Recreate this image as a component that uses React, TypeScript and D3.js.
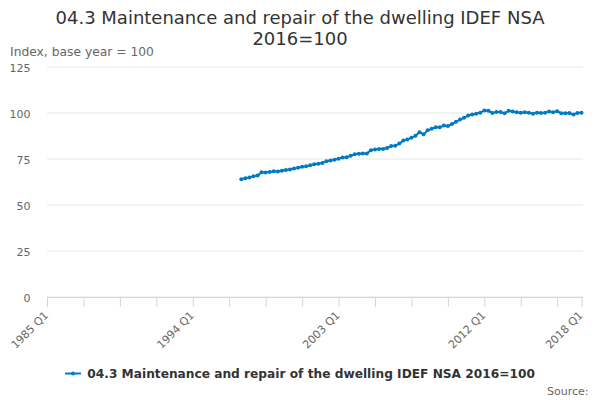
import React from 'react';
import * as d3 from 'd3';

// Quarterly categories, 1985 Q1 .. 2018 Q1
const firstYear = 1985;
const lastYear = 2018;
const quarters = ['Q1', 'Q2', 'Q3', 'Q4'];
const categories: string[] = [];
for (let y = firstYear; y <= lastYear; y++) {
  for (const q of quarters) {
    if (y === lastYear && q !== 'Q1') break;
    categories.push(`${y} ${q}`);
  }
}

// Series starts in 1997 Q1
const seriesStart = '1997 Q1';
const seriesValues = [
  64.0, 64.6, 65.0, 65.6, // 1997
  66.0, 67.8, 67.7, 68.0, // 1998
  68.3, 68.2, 68.6, 69.0, // 1999
  69.3, 69.8, 70.2, 70.8, // 2000
  71.0, 71.6, 72.2, 72.4, // 2001
  72.8, 73.8, 74.2, 74.6, // 2002
  75.2, 75.8, 75.9, 76.8, // 2003
  77.6, 77.9, 78.0, 78.0, // 2004
  79.8, 80.2, 80.4, 80.4, // 2005
  81.0, 82.0, 82.2, 83.4, // 2006
  85.0, 85.6, 86.6, 87.6, // 2007
  89.6, 88.4, 90.6, 91.4, // 2008
  92.2, 92.2, 93.2, 93.0, // 2009
  94.0, 95.2, 96.4, 97.4, // 2010
  98.6, 99.2, 99.6, 100.2, // 2011
  101.4, 101.2, 100.0, 100.6, // 2012
  100.6, 99.8, 101.2, 100.8, // 2013
  100.4, 100.2, 100.4, 100.2, // 2014
  99.6, 100.2, 100.0, 100.2, // 2015
  100.8, 100.4, 101.0, 99.8, // 2016
  99.8, 100.0, 99.2, 100.0, // 2017
  100.2, // 2018
];

const yTicks = [0, 25, 50, 75, 100, 125];
const xLabels = ['1985 Q1', '1994 Q1', '2003 Q1', '2012 Q1', '2018 Q1'];
const tickEvery = 9;

const title = ['04.3 Maintenance and repair of the dwelling IDEF NSA', '2016=100'];
const seriesName = '04.3 Maintenance and repair of the dwelling IDEF NSA 2016=100';
const yTitle = 'Index, base year = 100';

const font = '"DejaVu Sans", Verdana, sans-serif';
const blue = '#007ac3';

export default function App() {
  const width = 600;
  const height = 400;
  const left = 47;
  const right = 581.5;
  const top = 67;
  const bottom = 297;

  const x = d3.scalePoint<string>().domain(categories).range([left, right]).padding(0);
  const y = d3.scaleLinear().domain([0, 125]).range([bottom, top]);

  const startIdx = categories.indexOf(seriesStart);
  const points = seriesValues.map((v, i) => ({ cat: categories[startIdx + i], v }));

  const line = d3
    .line<{ cat: string; v: number }>()
    .x(d => x(d.cat) as number)
    .y(d => y(d.v));

  const tickCats = categories.filter((_, i) => i % tickEvery === 0 || i === categories.length - 1);

  return (
    <svg
      width={width}
      height={height}
      style={{ position: 'absolute', left: 0, top: 0, display: 'block' }}
      fontFamily={font}
    >
      <rect width={width} height={height} fill="#fff" />
      <text x={300} y={24} textAnchor="middle" fontSize={18} fill="#333">
        {title[0]}
      </text>
      <text x={300} y={45} textAnchor="middle" fontSize={18} fill="#333">
        {title[1]}
      </text>
      <text x={10} y={56} fontSize={12.3} fill="#666">
        {yTitle}
      </text>

      {yTicks.map(t => (
        <g key={t}>
          <line x1={left} x2={right + 1.5} y1={y(t)} y2={y(t)} stroke="#e6e6e6" strokeWidth={1} />
          <text x={30.5} y={y(t) + 5} textAnchor="end" fontSize={11} fill="#666">
            {t}
          </text>
        </g>
      ))}

      <line x1={left} x2={right + 1.5} y1={bottom + 0.5} y2={bottom + 0.5} stroke="#ccd6eb" />
      {tickCats.map(c => (
        <line
          key={c}
          x1={(x(c) as number) + 0.5}
          x2={(x(c) as number) + 0.5}
          y1={bottom}
          y2={bottom + 10}
          stroke="#ccd6eb"
        />
      ))}
      {xLabels.map(c => (
        <text
          key={c}
          transform={`translate(${(x(c) as number) + 2},${bottom + 19}) rotate(-45)`}
          textAnchor="end"
          fontSize={11}
          fill="#666"
        >
          {c}
        </text>
      ))}

      <path d={line(points) || ''} fill="none" stroke={blue} strokeWidth={2} />
      {points.map(p => (
        <circle key={p.cat} cx={x(p.cat)} cy={y(p.v)} r={2} fill={blue} />
      ))}

      <g transform="translate(65,373.5)">
        <line x1={0} x2={16} y1={0} y2={0} stroke={blue} strokeWidth={2} />
        <circle cx={8} cy={0} r={2} fill={blue} />
        <text x={22.3} y={4} fontSize={12.2} fontWeight="bold" fill="#333">
          {seriesName}
        </text>
      </g>
      <text x={588.5} y={395} textAnchor="end" fontSize={11} fill="#666">
        Source:
      </text>
    </svg>
  );
}
